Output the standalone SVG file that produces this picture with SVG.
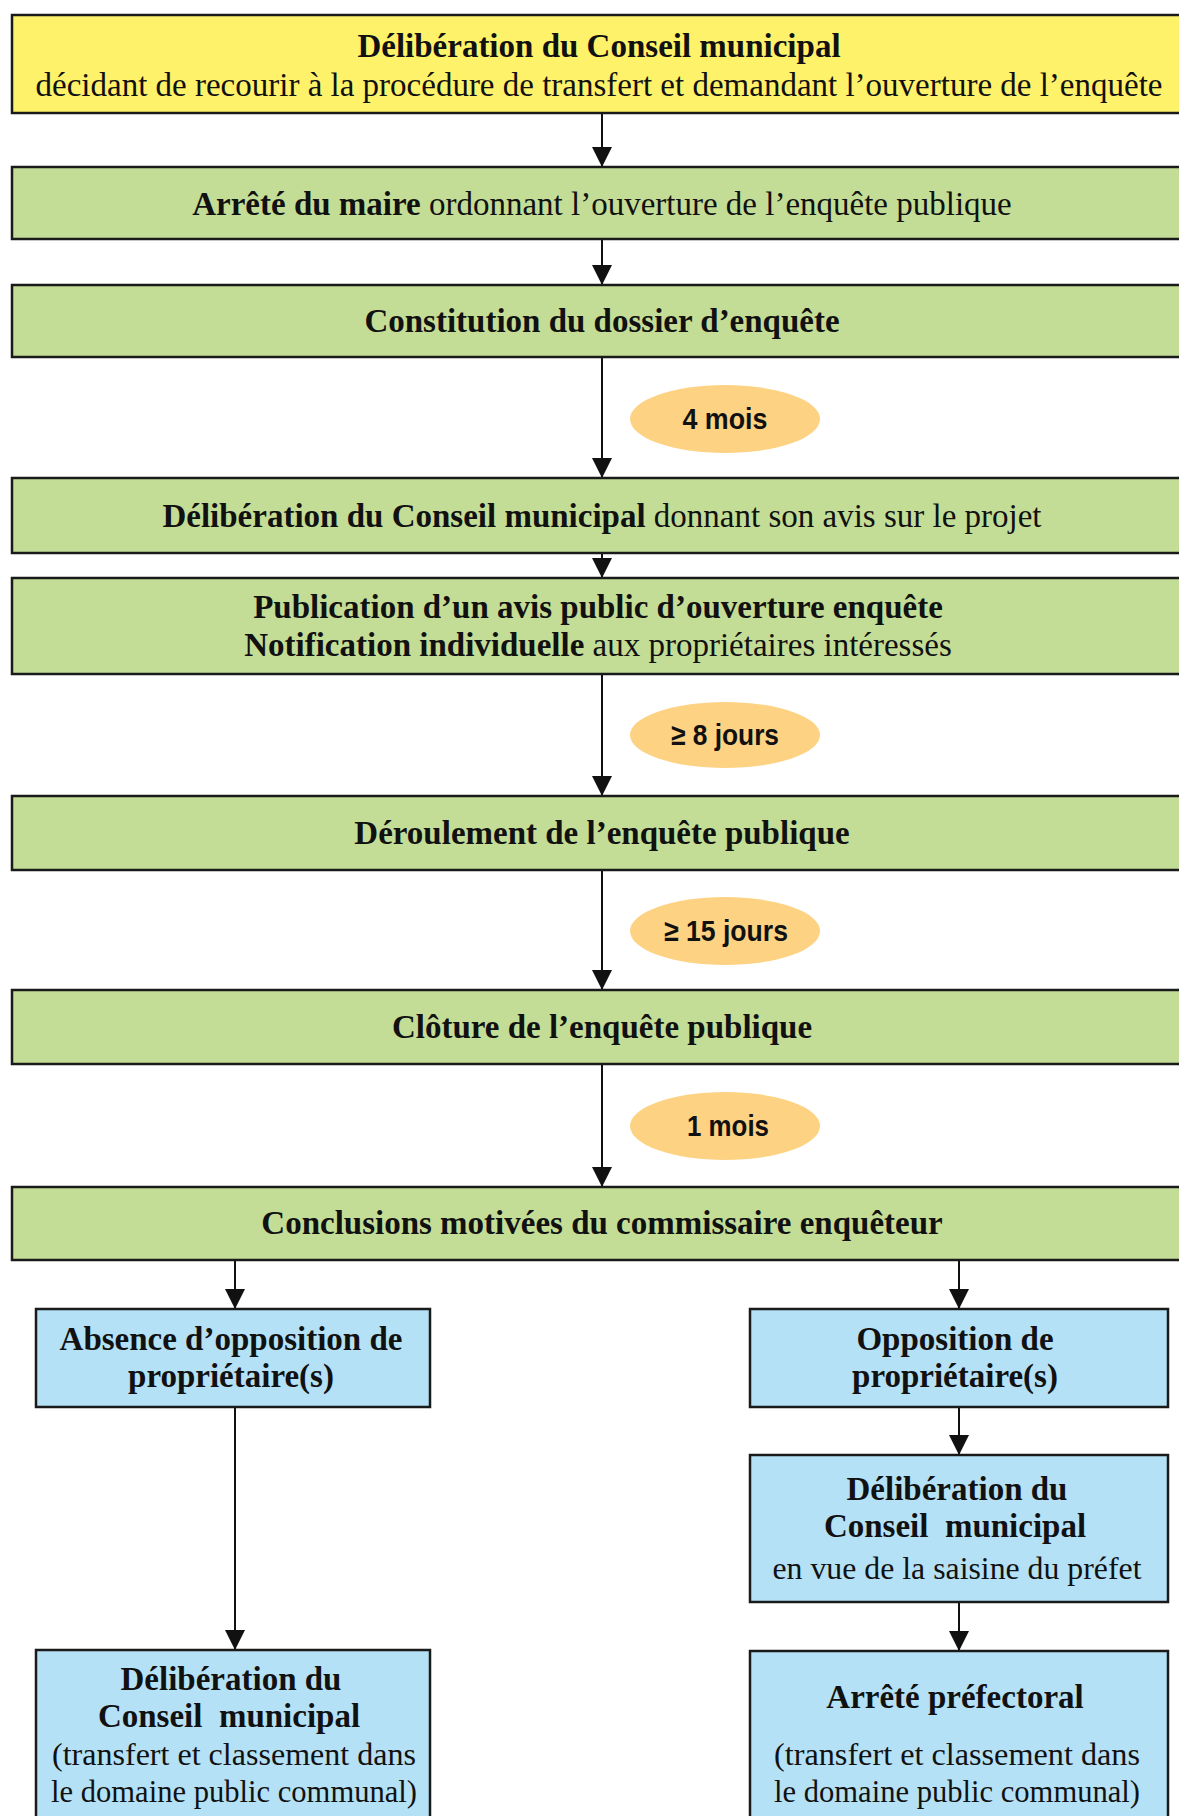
<svg xmlns="http://www.w3.org/2000/svg" width="1179" height="1816" viewBox="0 0 1179 1816">
<style>
.box{stroke:#1a1a1a;stroke-width:2.5}
.y{fill:#FFF26B}
.g{fill:#C4DD96}
.b{fill:#B5E1F6}
.el{fill:#FDD383}
.t{font-family:"Liberation Serif","Times New Roman",serif;font-size:33px;fill:#111;text-anchor:middle}
.s{font-size:31px}
.bd{font-weight:bold}
.pre{white-space:pre}
.e{font-family:"Liberation Sans",Arial,sans-serif;font-weight:bold;font-size:30px;fill:#111;text-anchor:middle}
.c{stroke:#111;stroke-width:2;fill:none}
</style>
<defs>
<marker id="ah" viewBox="0 0 20 20" refX="20" refY="10" markerWidth="20" markerHeight="20" markerUnits="userSpaceOnUse" orient="auto">
<path d="M0,0 L20,10 L0,20 Z" fill="#111"/>
</marker>
</defs>
<rect width="1179" height="1816" fill="#fff"/>

<g id="connectors">
<line class="c" x1="602" y1="113" x2="602" y2="167" marker-end="url(#ah)"/>
<line class="c" x1="602" y1="239" x2="602" y2="285" marker-end="url(#ah)"/>
<line class="c" x1="602" y1="357" x2="602" y2="478" marker-end="url(#ah)"/>
<line class="c" x1="602" y1="553" x2="602" y2="578" marker-end="url(#ah)"/>
<line class="c" x1="602" y1="674" x2="602" y2="796" marker-end="url(#ah)"/>
<line class="c" x1="602" y1="870" x2="602" y2="990" marker-end="url(#ah)"/>
<line class="c" x1="602" y1="1064" x2="602" y2="1187" marker-end="url(#ah)"/>
<line class="c" x1="235" y1="1260" x2="235" y2="1309" marker-end="url(#ah)"/>
<line class="c" x1="959" y1="1260" x2="959" y2="1309" marker-end="url(#ah)"/>
<line class="c" x1="235" y1="1407" x2="235" y2="1650" marker-end="url(#ah)"/>
<line class="c" x1="959" y1="1407" x2="959" y2="1455" marker-end="url(#ah)"/>
<line class="c" x1="959" y1="1602" x2="959" y2="1651" marker-end="url(#ah)"/>
</g>

<g id="n1">
<rect class="box y" x="12" y="15" width="1180" height="98"/>
<text class="t bd" x="599" y="57">Délibération du Conseil municipal</text>
<text class="t" x="599" y="96">décidant de recourir à la procédure de transfert et demandant l’ouverture de l’enquête</text>
</g>
<g id="n2">
<rect class="box g" x="12" y="167" width="1180" height="72"/>
<text class="t" x="602" y="215"><tspan class="bd">Arrêté du maire</tspan> ordonnant l’ouverture de l’enquête publique</text>
</g>
<g id="n3">
<rect class="box g" x="12" y="285" width="1180" height="72"/>
<text class="t bd" x="602" y="332">Constitution du dossier d’enquête</text>
</g>
<g id="e1">
<ellipse class="el" cx="725" cy="419" rx="95" ry="34"/>
<text class="e" x="725" y="429" textLength="85" lengthAdjust="spacingAndGlyphs">4 mois</text>
</g>
<g id="n4">
<rect class="box g" x="12" y="478" width="1180" height="75"/>
<text class="t" x="602" y="527"><tspan class="bd">Délibération du Conseil municipal</tspan> donnant son avis sur le projet</text>
</g>
<g id="n5">
<rect class="box g" x="12" y="578" width="1180" height="96"/>
<text class="t bd" x="598" y="618">Publication d’un avis public d’ouverture enquête</text>
<text class="t" x="598" y="656"><tspan class="bd">Notification individuelle</tspan> aux propriétaires intéressés</text>
</g>
<g id="e2">
<ellipse class="el" cx="725" cy="735" rx="95" ry="33"/>
<text class="e" x="725" y="745" textLength="108" lengthAdjust="spacingAndGlyphs">≥ 8 jours</text>
</g>
<g id="n6">
<rect class="box g" x="12" y="796" width="1180" height="74"/>
<text class="t bd" x="602" y="844">Déroulement de l’enquête publique</text>
</g>
<g id="e3">
<ellipse class="el" cx="725" cy="931" rx="95" ry="34"/>
<text class="e" x="726" y="941" textLength="124" lengthAdjust="spacingAndGlyphs">≥ 15 jours</text>
</g>
<g id="n7">
<rect class="box g" x="12" y="990" width="1180" height="74"/>
<text class="t bd" x="602" y="1038">Clôture de l’enquête publique</text>
</g>
<g id="e4">
<ellipse class="el" cx="725" cy="1126" rx="95" ry="34"/>
<text class="e" x="728" y="1136" textLength="82" lengthAdjust="spacingAndGlyphs">1 mois</text>
</g>
<g id="n8">
<rect class="box g" x="12" y="1187" width="1180" height="73"/>
<text class="t bd" x="602" y="1234">Conclusions motivées du commissaire enquêteur</text>
</g>
<g id="n9">
<rect class="box b" x="36" y="1309" width="394" height="98"/>
<text class="t bd" x="231" y="1350">Absence d’opposition de</text>
<text class="t bd" x="231" y="1387">propriétaire(s)</text>
</g>
<g id="n10">
<rect class="box b" x="750" y="1309" width="418" height="98"/>
<text class="t bd" x="955" y="1350">Opposition de</text>
<text class="t bd" x="955" y="1387">propriétaire(s)</text>
</g>
<g id="n11">
<rect class="box b" x="750" y="1455" width="418" height="147"/>
<text class="t bd" x="957" y="1500">Délibération du</text>
<text class="t bd pre" x="955" y="1537">Conseil  municipal</text>
<text class="t s" x="957" y="1579" textLength="369" lengthAdjust="spacingAndGlyphs">en vue de la saisine du préfet</text>
</g>
<g id="n12">
<rect class="box b" x="36" y="1650" width="394" height="180"/>
<text class="t bd" x="231" y="1690">Délibération du</text>
<text class="t bd pre" x="229" y="1727">Conseil  municipal</text>
<text class="t s" x="234" y="1765" textLength="364" lengthAdjust="spacingAndGlyphs">(transfert et classement dans</text>
<text class="t s" x="234" y="1802" textLength="366" lengthAdjust="spacingAndGlyphs">le domaine public communal)</text>
</g>
<g id="n13">
<rect class="box b" x="750" y="1651" width="418" height="180"/>
<text class="t bd" x="955" y="1708">Arrêté préfectoral</text>
<text class="t s" x="957" y="1765" textLength="366" lengthAdjust="spacingAndGlyphs">(transfert et classement dans</text>
<text class="t s" x="957" y="1802" textLength="366" lengthAdjust="spacingAndGlyphs">le domaine public communal)</text>
</g>
</svg>
